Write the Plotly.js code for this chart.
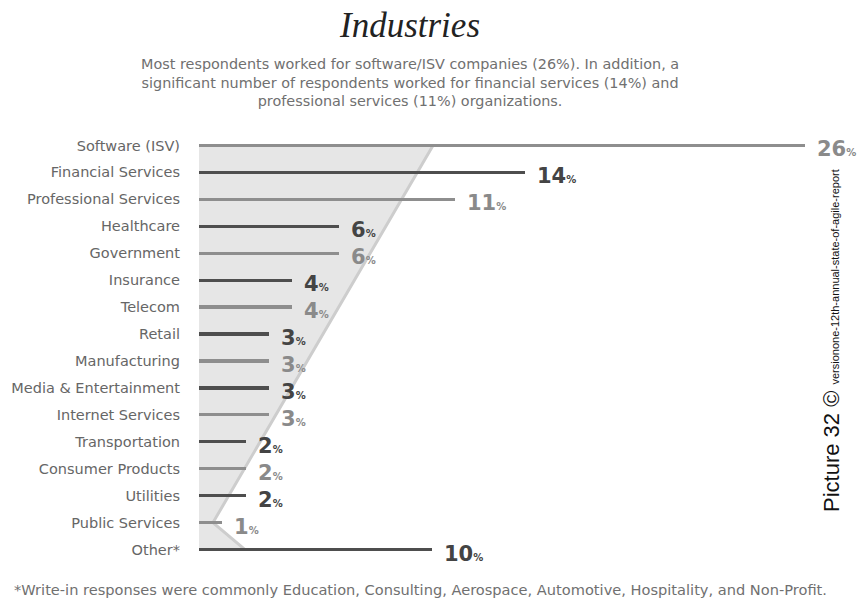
<!DOCTYPE html>
<html>
<head>
<meta charset="utf-8">
<script src="https://cdn.plot.ly/plotly-3.0.1.min.js"></script>
<style>html,body{margin:0;padding:0;background:#fff;}#chart{width:867px;height:599px;}</style>
</head>
<body>
<div id="chart"></div>
<script>
const categories = ["Software (ISV)","Financial Services","Professional Services","Healthcare","Government","Insurance","Telecom","Retail","Manufacturing","Media & Entertainment","Internet Services","Transportation","Consumer Products","Utilities","Public Services","Other*"];
const values = [26,14,11,6,6,4,4,3,3,3,3,2,2,2,1,10];
const titleText = "Industries";
const subtitleText = "Most respondents worked for software/ISV companies (26%). In addition, a<br>significant number of respondents worked for financial services (14%) and<br>professional services (11%) organizations.";
const footnoteText = "*Write-in responses were commonly Education, Consulting, Aerospace, Automotive, Hospitality, and Non-Profit.";
const creditMain = "Picture 32 ©";
const creditSmall = "versionone-12th-annual-state-of-agile-report";

const lineLight = "#8e8e8e", lineDark = "#4e4e4e";
const textLight = "#8a8a8a", textDark = "#444444";
const isDark = categories.map((c, i) => i % 2 === 1);

const trace = {
  type: "bar",
  orientation: "h",
  x: values,
  y: categories,
  width: 0.12,
  marker: {color: isDark.map(d => d ? lineDark : lineLight), line: {width: 0}},
  hoverinfo: "skip"
};

const valueAnnotations = categories.map((c, i) => ({
  x: values[i], y: c, xref: "x", yref: "y",
  xanchor: "left", yanchor: "middle", xshift: 10, yshift: -4,
  showarrow: false,
  text: values[i] + '<span style="font-size:10px;font-weight:700">%</span>',
  font: {family: "'DejaVu Sans', sans-serif", size: 21, weight: 900, color: isDark[i] ? textDark : textLight}
}));

// plot area: left 199, right 805, top 131.5, bottom 563.5
const L = 199, R = 805, T = 131.5, B = 563.5;
const px = v => (v - L) / (R - L);
const py = v => (B - v) / (B - T);

const layout = {
  width: 867, height: 599,
  margin: {l: L, r: 867 - R, t: T, b: 599 - B, pad: 0},
  paper_bgcolor: "#fff", plot_bgcolor: "rgba(0,0,0,0)",
  showlegend: false,
  bargap: 0,
  title: {
    text: "<i>" + titleText + "</i>",
    x: 410 / 867, xref: "container", xanchor: "center",
    y: 1 - 25 / 599, yref: "container", yanchor: "middle",
    font: {family: "'Liberation Serif', 'DejaVu Serif', serif", size: 35, color: "#222"}
  },
  xaxis: {range: [0, 26], visible: false, fixedrange: true},
  yaxis: {
    type: "category", categoryorder: "array", categoryarray: categories,
    range: [categories.length - 0.5, -0.5],
    showgrid: false, zeroline: false, showline: false, ticks: "",
    ticklabelstandoff: 18,
    tickfont: {family: "'DejaVu Sans', sans-serif", size: 14.5, color: "#666"}
  },
  shapes: [
    {type: "path", xref: "paper", yref: "paper", layer: "below",
     path: `M ${px(199)} ${py(145)} L ${px(433)} ${py(145)} L ${px(213)} ${py(523)} L ${px(245)} ${py(550)} L ${px(199)} ${py(550)} Z`,
     fillcolor: "#e6e6e6", line: {width: 0}},
    {type: "path", xref: "paper", yref: "paper", layer: "below",
     path: `M ${px(433)} ${py(145)} L ${px(213)} ${py(523)} L ${px(245)} ${py(550)}`,
     line: {color: "#cdcdcd", width: 3}}
  ],
  annotations: valueAnnotations.concat([
    {xref: "paper", yref: "paper", x: px(410), y: py(82), xanchor: "center", yanchor: "middle",
     showarrow: false, align: "center", text: subtitleText,
     font: {family: "'DejaVu Sans', sans-serif", size: 14.4, color: "#707070"}},
    {xref: "paper", yref: "paper", x: px(420), y: py(590), xanchor: "center", yanchor: "middle",
     showarrow: false, text: footnoteText,
     font: {family: "'DejaVu Sans', sans-serif", size: 14.6, color: "#707070"}},
    {xref: "paper", yref: "paper", x: px(831), y: py(341), xanchor: "center", yanchor: "middle",
     showarrow: false, textangle: -90,
     text: creditMain + ' <span style="font-size:11px">' + creditSmall + '</span>',
     font: {family: "'Liberation Sans', Arial, sans-serif", size: 22, color: "#111"}}
  ])
};

Plotly.newPlot("chart", [trace], layout, {displayModeBar: false, staticPlot: true});
</script>
</body>
</html>
